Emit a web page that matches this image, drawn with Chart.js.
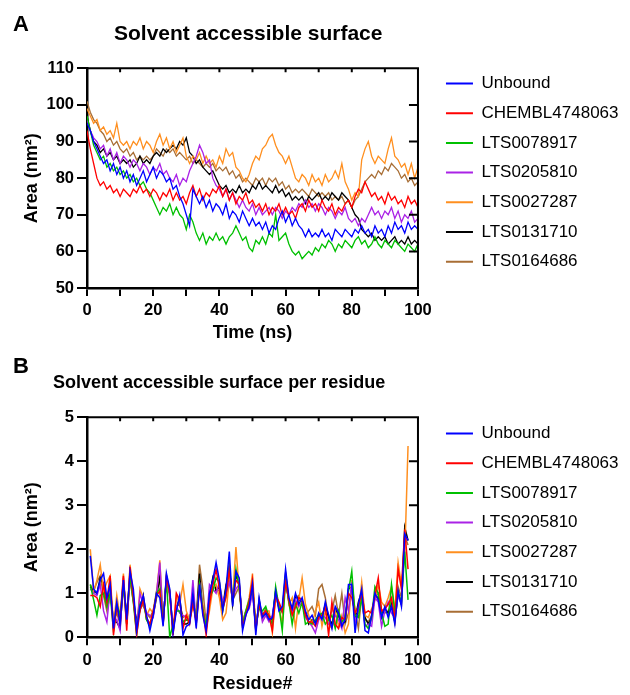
<!DOCTYPE html>
<html><head><meta charset="utf-8">
<script src="https://cdn.jsdelivr.net/npm/chart.js@4.4.0/dist/chart.umd.min.js"></script>
<style>
html,body{margin:0;padding:0;background:#fff;}
body{width:630px;height:695px;position:relative;overflow:hidden;font-family:"Liberation Sans",Arial,Helvetica,sans-serif;}
.lbl{position:absolute;font-weight:bold;line-height:1;white-space:nowrap;color:#000;z-index:2}
#wrapA{position:absolute;left:0;top:0;width:630px;height:349px}
#wrapB{position:absolute;left:0;top:349px;width:630px;height:346px}
</style></head><body>
<div id="wrapA"><canvas id="cA" width="630" height="349"></canvas></div>
<div id="wrapB"><canvas id="cB" width="630" height="346"></canvas></div>
<div class="lbl" style="left:13px;top:13px;font-size:22px">A</div>
<div class="lbl" style="left:114px;top:22px;font-size:21px">Solvent accessible surface</div>
<div class="lbl" style="left:13px;top:355px;font-size:22px">B</div>
<div class="lbl" style="left:53px;top:373px;font-size:18px">Solvent accessible surface per residue</div>
<script>
// ---------- DATA ----------
const seriesNames = ['Unbound','CHEMBL4748063','LTS0078917','LTS0205810','LTS0027287','LTS0131710','LTS0164686'];
const seriesColors = ['#0000ff','#ff0000','#00c000','#aa22e6','#ff8f1f','#000000','#a86e35'];

// Panel A: time (ns), one sample per ns
const timeNs = Array.from({length:101}, (_, i) => i);
const xTickLabelsA = [0,20,40,60,80,100];
const yTickLabelsA = [50,60,70,80,90,100,110];

const unboundA = [95,93,90,88,86,84,85,82,84,81, 83,80,82,79,81,78,80,82,79,81, 83,80,82,81,79,80,77,78,75,73,
  70,67,77,75,73,75,72,74,71,73, 72,70,73,69,71,70,68,71,69,67, 69,67,68,66,68,65,67,66,69,71,
  68,70,67,69,67,66,64,66,64,65, 64,66,64,65,63,66,65,64,66,65, 64,66,65,67,65,66,64,67,65,66,
  64,67,65,68,66,67,65,68,66,67, 66];
const chemblA = [93,88,84,80,78,79,77,78,76,77, 75,77,76,75,77,76,78,76,77,75, 77,76,74,76,75,77,74,76,74,75,
  73,76,78,75,77,74,76,75,77,76, 78,75,77,74,76,73,75,74,76,73, 74,72,73,71,73,70,72,71,73,70,
  72,70,71,69,72,73,71,74,72,73, 71,74,72,71,73,70,72,71,73,74, 72,75,77,76,79,77,75,76,74,75,
  73,76,74,75,73,74,72,75,73,74, 72];
const lts0078917A = [97,93,89,87,85,86,83,84,82,83, 81,82,80,81,79,80,78,79,77,76, 74,72,70,72,71,73,70,72,70,69,
  66,70,68,65,63,65,62,64,63,65, 63,64,62,64,65,67,65,63,64,61, 60,63,62,64,62,65,64,70,63,64,
  65,62,60,59,60,58,59,60,59,61, 60,62,61,63,62,60,62,61,63,62, 61,63,64,62,63,61,62,64,62,61,
  63,62,61,63,62,61,60,62,61,60, 62];
const lts0205810A = [96,93,91,90,88,89,86,88,85,87, 84,86,85,83,85,84,82,84,83,81, 83,82,84,81,82,80,79,81,78,80,
  79,82,84,86,89,87,84,85,80,78, 77,75,77,74,76,74,72,74,72,71, 73,70,72,70,71,72,70,72,71,69,
  71,70,72,71,73,72,74,72,73,71, 73,72,70,72,71,69,71,70,72,69, 68,69,67,69,68,70,72,70,71,69,
  71,70,72,69,71,68,70,69,71,68, 69];
const lts0027287A = [99,97,95,96,93,94,92,93,91,95, 90,89,90,88,90,89,91,88,90,89, 87,90,92,89,91,88,90,87,89,91,
  86,84,86,85,87,84,86,84,85,83, 86,84,88,86,87,83,82,80,79,81, 84,86,85,88,89,91,92,89,87,86,
  84,86,83,80,79,81,80,78,81,79, 80,78,81,79,80,82,80,84,79,77, 74,76,75,85,88,90,86,84,86,85,
  84,88,91,86,85,83,84,81,84,80, 83];
const lts0131710A = [97,93,90,89,87,88,86,87,85,86, 84,85,84,85,83,84,86,84,85,84, 86,87,86,88,87,88,89,88,90,89,
  91,87,86,84,85,83,82,81,82,80, 78,77,78,76,77,76,78,76,77,76, 78,77,79,77,78,77,76,78,76,77,
  75,76,74,75,74,75,73,75,74,75, 76,74,75,74,76,75,74,76,75,74, 72,70,69,66,65,64,65,63,64,63,
  64,62,63,64,62,63,62,64,62,63, 62];
const lts0164686A = [101,98,96,95,93,92,90,91,89,90, 88,87,88,86,87,85,86,85,86,85, 86,88,87,86,88,87,88,86,87,86,
  85,86,84,85,84,83,84,83,84,82, 83,82,83,81,82,80,81,79,80,79, 78,80,79,80,78,80,79,80,78,79,
  77,78,76,77,76,77,76,75,77,76, 75,76,75,76,74,75,74,75,73,74, 72,74,75,77,79,80,81,80,82,81,
  83,82,84,83,82,80,81,79,80,78, 79];

// Panel B: residue number 1..97
const residues = Array.from({length:97}, (_, i) => i + 1);
const xTickLabelsB = [0,20,40,60,80,100];
const yTickLabelsB = [0,1,2,3,4,5];

const unboundB = [1.85,1.1,1.0,1.3,1.45,0.9,1.2,0.2,0.8,0.3, 1.3,0.4,1.5,1.1,0.15,0.7,0.95,0.5,0.15,0.5,
  1.0,0.9,0.25,1.45,1.1,0.1,0.6,0.95,0.05,0.25, 0.3,1.0,0.2,1.2,0.5,0.15,1.0,1.3,1.7,1.3,
  0.6,1.1,1.95,0.7,1.5,1.35,0.15,0.5,0.7,1.2, 0.05,0.9,0.45,0.55,0.4,0.45,1.05,0.6,0.7,1.55,
  0.9,0.65,1.0,0.75,0.9,0.6,0.4,0.5,0.3,0.55, 0.4,0.8,0.5,0.2,0.7,0.55,0.25,0.4,1.2,1.2,
  0.1,0.75,1.1,0.15,0.1,0.5,1.0,0.85,0.45,0.7, 0.45,0.7,0.3,1.05,0.7,2.35,2.2];
const chemblB = [0.95,0.95,0.9,0.7,1.2,0.8,1.4,0.05,0.7,0.35, 1.4,0.15,1.6,0.9,0.05,0.6,0.85,0.45,0.3,0.6,
  0.95,1.05,0.3,1.35,1.0,0.05,1.0,0.85,0.2,0.5, 0.3,0.8,0.3,1.1,0.6,0.05,0.75,1.2,1.55,1.1,
  0.65,0.9,1.55,0.85,1.3,1.2,0.25,0.5,0.8,1.3, 0.15,0.75,0.5,0.6,0.5,0.15,0.95,0.8,0.6,1.25,
  0.85,0.5,0.7,0.9,0.85,0.5,0.35,0.35,0.25,0.45, 0.5,0.7,0.05,0.8,0.3,0.2,0.45,0.4,1.0,0.9,
  0.55,0.7,1.0,0.55,0.6,0.55,0.95,1.35,0.6,0.65, 0.75,0.9,0.4,1.55,1.1,2.45,1.55];
const lts0078917B = [1.2,0.85,0.5,0.95,1.0,0.7,1.0,0.15,0.75,0.5, 1.2,0.3,1.4,0.8,0.05,0.75,0.85,0.4,0.25,0.55,
  1.0,1.1,0.4,1.3,0.0,0.3,0.6,0.6,0.35,0.4, 0.35,0.9,0.35,1.2,0.65,0.25,0.9,1.05,1.35,1.25,
  0.6,1.0,1.65,0.8,1.55,1.1,0.3,0.6,0.85,1.15, 0.25,0.65,0.6,0.7,0.45,0.3,1.15,0.7,0.15,1.3,
  0.8,0.3,0.75,0.55,0.8,0.3,0.35,0.3,0.4,0.5, 0.55,0.3,0.4,0.5,0.2,0.6,0.35,0.45,1.05,1.5,
  0.5,0.45,0.9,0.3,0.2,0.45,1.15,1.0,0.55,0.25, 0.3,1.2,0.6,1.0,0.8,1.95,0.85];
const lts0205810B = [1.1,1.0,0.95,1.2,0.6,0.35,1.1,0.3,0.4,0.15, 1.35,0.3,1.35,0.85,0.2,1.0,0.75,0.55,0.5,0.45,
  1.0,1.7,0.35,1.35,1.0,0.15,0.7,0.55,0.5,0.45, 0.35,1.3,0.3,1.25,0.6,0.25,1.2,1.1,1.0,1.25,
  0.8,1.0,1.25,0.9,1.1,1.2,0.3,0.55,0.65,1.0, 0.2,0.8,0.35,0.5,0.35,0.5,1.0,0.75,0.6,1.3,
  0.8,0.55,0.85,0.7,0.8,0.45,0.35,0.25,0.1,0.4, 0.5,0.45,0.3,0.25,0.5,0.4,0.2,0.9,0.6,1.25,
  0.35,0.6,0.85,0.25,0.3,0.25,0.9,0.8,0.25,0.6, 0.8,0.55,0.45,0.95,0.75,2.2,2.25];
const lts0027287B = [2.0,1.05,1.3,1.65,1.05,1.25,1.4,0.3,0.95,0.45, 1.45,0.3,1.65,0.95,0.1,1.1,0.9,0.5,0.65,0.55,
  1.0,1.75,0.4,1.3,1.05,0.05,0.95,0.75,1.2,0.6, 0.4,0.7,0.5,1.1,0.75,0.2,0.6,1.1,1.2,0.9,
  0.4,0.55,1.3,0.9,2.05,1.05,0.35,0.6,0.9,1.45, 0.2,0.75,0.4,0.6,0.6,0.1,0.9,0.7,0.3,1.35,
  0.75,0.9,0.2,0.85,1.35,0.75,0.5,0.3,0.6,0.8, 0.25,0.6,0.3,0.2,0.6,0.25,0.5,0.1,0.3,1.3,
  0.6,0.55,1.25,0.5,0.45,0.65,0.85,1.2,0.8,0.7, 0.9,1.15,0.6,1.7,1.2,1.85,4.35];
const lts0131710B = [1.15,1.05,1.0,1.35,1.2,0.75,1.1,0.35,0.35,0.2, 1.3,0.45,1.45,0.9,0.3,0.6,0.95,0.4,0.3,0.5,
  0.9,1.4,0.3,1.4,1.05,0.15,0.65,0.9,0.3,0.3, 0.35,0.9,0.35,1.45,0.6,0.2,0.95,1.35,1.05,1.15,
  0.65,1.15,1.6,0.75,1.4,1.25,0.25,0.55,0.7,1.15, 0.15,0.85,0.45,0.55,0.5,0.4,1.05,0.65,0.6,1.45,
  0.85,0.6,0.95,0.85,0.8,0.55,0.3,0.4,0.35,0.5, 0.45,0.75,0.45,0.3,0.65,0.5,0.3,0.35,1.1,1.15,
  0.4,0.8,1.05,0.45,0.3,0.45,0.95,0.9,0.5,0.65, 0.55,0.75,0.35,1.0,0.75,2.5,2.2];
const lts0164686B = [1.2,1.05,1.25,1.4,0.95,0.6,0.95,0.4,0.55,0.3, 1.1,0.55,1.3,0.8,0.35,0.8,0.7,0.55,0.45,0.6,
  1.05,1.3,0.35,1.35,0.9,0.2,0.7,0.75,0.45,0.5, 0.4,0.8,0.45,1.65,1.1,0.3,0.85,1.3,1.1,1.05,
  0.7,1.2,1.3,0.85,1.0,1.15,0.35,0.6,0.75,1.1, 0.3,0.7,0.5,0.65,0.45,0.35,1.0,0.7,0.55,1.35,
  0.8,0.65,0.9,0.95,0.75,0.5,0.6,0.7,0.5,1.1, 1.2,0.9,0.4,0.6,0.95,0.5,1.0,0.3,0.55,1.1,
  0.6,0.2,0.95,0.4,0.35,0.5,0.9,1.0,0.6,0.55, 0.6,0.85,0.5,1.15,0.9,2.3,2.1];

// ---------- RENDERING ----------
const FONT = "'Liberation Sans', Arial, Helvetica, sans-serif";
Chart.defaults.font.family = FONT;
Chart.defaults.color = '#000';

const framePlugin = {
  id: 'frame',
  afterDraw(chart) {
    const {ctx, chartArea: a, scales: {x, y}} = chart;
    ctx.save();
    ctx.strokeStyle = '#000';
    ctx.lineWidth = 2;
    ctx.beginPath();
    ctx.moveTo(a.left, a.top); ctx.lineTo(a.right, a.top); ctx.lineTo(a.right, a.bottom);
    ctx.stroke();
    ctx.beginPath();
    x.ticks.forEach(t => {
      if (t.value > x.min && t.value < x.max) {
        const p = x.getPixelForValue(t.value);
        ctx.moveTo(p, a.top); ctx.lineTo(p, a.top + 4);
      }
    });
    y.ticks.forEach(t => {
      if (t.value > y.min && t.value < y.max) {
        const p = y.getPixelForValue(t.value);
        ctx.moveTo(a.right, p); ctx.lineTo(a.right - 9, p);
      }
    });
    ctx.stroke();
    ctx.restore();
  }
};

function buildChart(id, xs, series, cfg) {
  return new Chart(document.getElementById(id), {
    type: 'line',
    data: {
      labels: xs,
      datasets: series.map((s, i) => ({
        label: seriesNames[i], data: s, borderColor: seriesColors[i], backgroundColor: seriesColors[i],
        borderWidth: cfg.lw, pointRadius: 0, pointHoverRadius: 0, tension: 0, fill: false,
        xAxisID: 'x', yAxisID: 'y'
      }))
    },
    options: {
      responsive: false, animation: false, devicePixelRatio: 1, events: [],
      layout: {padding: {top: cfg.padTop, left: 0, right: 1.5, bottom: 0}},
      plugins: {
        title: {display: false},
        tooltip: {enabled: false},
        legend: {
          position: 'right', align: 'start', maxWidth: 230,
          labels: {
            usePointStyle: true, pointStyle: 'line', pointStyleWidth: 27,
            padding: 12.7, color: '#000', font: {family: FONT, size: 17, weight: 'normal'},
            generateLabels: chart => Chart.defaults.plugins.legend.labels.generateLabels(chart)
              .map(item => Object.assign(item, {lineWidth: 2, strokeStyle: seriesColors[item.datasetIndex]}))
          }
        }
      },
      scales: {
        x: {
          type: 'linear', position: 'bottom', min: 0, max: 100,
          ticks: {stepSize: 10, autoSkip: false, maxRotation: 0, padding: 5,
            callback: v => (cfg.xTicks.includes(v) ? String(v) : ''),
            font: {family: FONT, size: 16.5, weight: 'bold'}, color: '#000'},
          grid: {drawOnChartArea: false, drawTicks: true, tickLength: 8, color: '#000', lineWidth: 2},
          border: {display: true, color: '#000', width: 2.5},
          title: {display: true, text: cfg.xTitle, color: '#000',
            font: {family: FONT, size: 18, weight: 'bold'}, padding: {top: 0, bottom: cfg.xTitlePad}},
          afterFit: s => { s.height = cfg.xHeight; }
        },
        x2: {
          type: 'linear', position: 'top', min: 0, max: 1, display: true,
          ticks: {display: false}, grid: {display: false, drawTicks: false}, border: {display: false},
          afterFit: s => { s.height = cfg.topSpace; }
        },
        y: {
          type: 'linear', position: 'left', min: cfg.yMin, max: cfg.yMax,
          ticks: {stepSize: cfg.yStep, autoSkip: false, padding: 3,
            callback: v => (cfg.yTicks.includes(v) ? String(v) : ''),
            font: {family: FONT, size: 16.5, weight: 'bold'}, color: '#000'},
          grid: {drawOnChartArea: false, drawTicks: true, tickLength: 10, color: '#000', lineWidth: 2},
          border: {display: true, color: '#000', width: 2.5},
          title: {display: true, text: 'Area (nm²)', color: '#000',
            font: {family: FONT, size: 18, weight: 'bold'}, padding: {top: 21, bottom: 0}},
          afterFit: s => { s.width = 87; }
        },
        y2: {
          type: 'linear', position: 'right', min: 0, max: 1, display: true,
          ticks: {display: false}, grid: {display: false, drawTicks: false}, border: {display: false},
          afterFit: s => { s.width = 15.3; }
        }
      }
    },
    plugins: [framePlugin]
  });
}

buildChart('cA', timeNs,
  [unboundA, chemblA, lts0078917A, lts0205810A, lts0027287A, lts0131710A, lts0164686A],
  {lw: 1.3, padTop: 62.3, topSpace: 6, xHeight: 61, xTitle: 'Time (ns)', xTitlePad: 5,
   yMin: 50, yMax: 110, yStep: 10, xTicks: xTickLabelsA, yTicks: yTickLabelsA});

buildChart('cB', residues,
  [unboundB, chemblB, lts0078917B, lts0205810B, lts0027287B, lts0131710B, lts0164686B],
  {lw: 1.5, padTop: 63.3, topSpace: 5, xHeight: 57.7, xTitle: 'Residue#', xTitlePad: 0,
   yMin: 0, yMax: 5, yStep: 1, xTicks: xTickLabelsB, yTicks: yTickLabelsB});
</script>
</body></html>
